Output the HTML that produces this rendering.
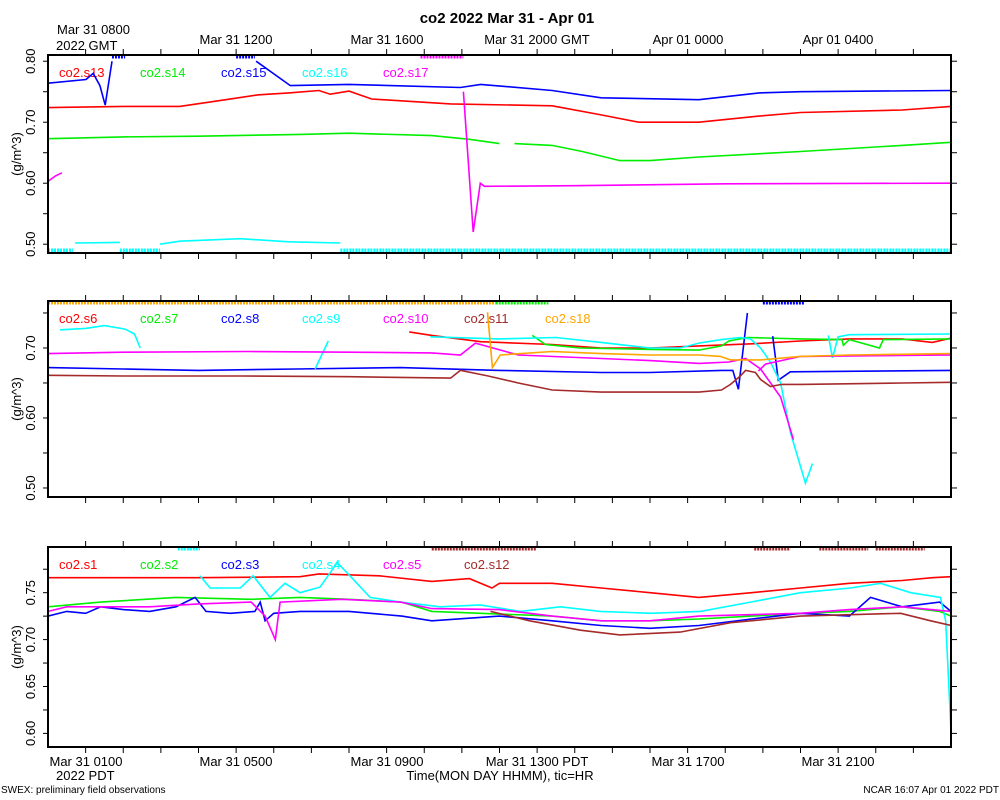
<!DOCTYPE html>
<html><head><meta charset="utf-8"><style>
body{margin:0;background:#fff;}
svg{display:block;font-family:"Liberation Sans",sans-serif;}
</style></head><body>
<svg id="chart" width="1000" height="800" viewBox="0 0 1000 800" xmlns="http://www.w3.org/2000/svg">
<text x="507" y="23" text-anchor="middle" font-size="15" font-weight="bold">co2 2022 Mar 31 - Apr 01</text>
<g font-size="13">
<text x="57" y="34">Mar 31 0800</text><text x="56" y="50">2022 GMT</text>
<text x="236" y="44" text-anchor="middle">Mar 31 1200</text>
<text x="387" y="44" text-anchor="middle">Mar 31 1600</text>
<text x="537" y="44" text-anchor="middle">Mar 31 2000 GMT</text>
<text x="688" y="44" text-anchor="middle">Apr 01 0000</text>
<text x="838" y="44" text-anchor="middle">Apr 01 0400</text>
</g>
<g font-size="13">
<text x="86" y="766" text-anchor="middle">Mar 31 0100</text><text x="56" y="780">2022 PDT</text>
<text x="236" y="766" text-anchor="middle">Mar 31 0500</text>
<text x="387" y="766" text-anchor="middle">Mar 31 0900</text>
<text x="537" y="766" text-anchor="middle">Mar 31 1300 PDT</text>
<text x="688" y="766" text-anchor="middle">Mar 31 1700</text>
<text x="838" y="766" text-anchor="middle">Mar 31 2100</text>
<text x="500" y="780" text-anchor="middle">Time(MON DAY HHMM), tic=HR</text>
</g>
<text x="1" y="793" font-size="10">SWEX: preliminary field observations</text>
<text x="999" y="793" font-size="10" text-anchor="end">NCAR 16:07 Apr 01 2022 PDT</text>
</svg>
<script>
// Panel 1 data (hours since 00 PDT)
const s13_t=[0,2.0,3.5,4.5,5.6,6.4,7.2,7.5,8.0,8.6,10.7,13.4,14.7,15.7,17.3,18.9,20.0,22.7,24];
const s13_v=[0.724,0.726,0.726,0.735,0.745,0.748,0.752,0.746,0.751,0.738,0.730,0.727,0.712,0.700,0.700,0.710,0.716,0.720,0.726];
const s14_t=[0,2,4,6.7,8,10.2,11.2,12,12.3,12.4,13.4,14.2,15.2,16.0,17.3,20,22.7,24];
const s14_v=[0.673,0.676,0.677,0.680,0.682,0.678,0.672,0.665,null,0.665,0.662,0.652,0.637,0.637,0.643,0.652,0.662,0.667];
const s15_t=[0,1.01,1.2,1.38,1.52,1.70,1.71,5.53,6.44,8,10.96,11.5,13.4,14.7,17.3,18.9,20,24];
const s15_v=[0.764,0.770,0.780,0.760,0.728,0.800,null,0.800,0.760,0.762,0.757,0.762,0.752,0.740,0.737,0.748,0.750,0.752];
const s16_t=[0.72,1.91,1.92,2.98,3.5,5.1,6.4,7.77];
const s16_v=[0.502,0.503,null,0.500,0.505,0.509,0.504,0.502];
const s17_t=[0,0.2,0.37,0.38,11.04,11.3,11.49,11.6,14,18,24];
const s17_v=[0.603,0.612,0.617,null,0.750,0.520,0.600,0.595,0.596,0.599,0.600];
// Panel 2 data
const s6_t=[9.6,10.2,11.5,13.4,14.7,16.0,17.3,18.7,20.0,21.3,22.7,23.5,24];
const s6_v=[0.723,0.718,0.709,0.705,0.700,0.700,0.703,0.706,0.710,0.713,0.713,0.708,0.714];
const s7_t=[12.87,13.22,14.15,16.0,17.3,17.9,18.1,18.6,20,21.1,21.14,21.3,22.1,22.2,22.4,24];
const s7_v=[0.718,0.705,0.700,0.698,0.697,0.703,0.710,0.715,0.713,0.712,0.704,0.712,0.700,0.712,0.712,0.713];
const s8_t=[0,2,4,6.6,9.36,12.0,14.7,16.0,17.9,18.2,18.35,18.59,18.6,19.26,19.41,19.73,24];
const s8_v=[0.672,0.670,0.668,0.670,0.672,0.668,0.665,0.665,0.668,0.668,0.641,0.750,null,0.717,0.654,0.666,0.668];
const s9_t=[0.32,1.0,1.5,2.05,2.3,2.45,2.46,7.1,7.45,7.46,10.16,12.0,13.5,14.7,16.0,16.8,17.3,17.9,18.4,18.67,18.94,19.2,19.47,19.73,20.13,20.32,20.33,20.74,20.85,21.0,21.3,24];
const s9_v=[0.726,0.728,0.732,0.727,0.720,0.700,null,0.670,0.710,null,0.716,0.713,0.715,0.708,0.700,0.700,0.707,0.712,0.715,0.713,0.700,0.680,0.650,0.580,0.507,0.535,null,0.718,0.686,0.716,0.719,0.720];
const s10_t=[0,2,5.3,8,10.2,10.96,11.36,12.5,14.7,16,17.3,18.1,18.54,18.94,19.47,19.81,19.82,18.88,19.07,20,24];
const s10_v=[0.692,0.694,0.695,0.694,0.693,0.690,0.707,0.690,0.685,0.682,0.678,0.680,0.685,0.670,0.630,0.569,null,0.667,0.677,0.688,0.690];
const s11_t=[0,2,5.1,8,10.7,10.96,11.7,12.5,13.4,14.7,17.3,17.9,18.14,18.4,18.54,18.8,18.94,19.2,19.5,20,22.7,24];
const s11_v=[0.661,0.660,0.660,0.659,0.657,0.668,0.660,0.650,0.640,0.637,0.637,0.640,0.648,0.660,0.668,0.665,0.655,0.645,0.648,0.648,0.650,0.651];
const s18_t=[11.68,11.81,12.02,13.4,14.7,16.0,17.3,17.87,18.14,18.94,20,21.3,22.7,24];
const s18_v=[0.751,0.672,0.690,0.695,0.692,0.690,0.690,0.688,0.683,0.683,0.688,0.690,0.691,0.692];
// Panel 3 data
const s1_t=[0,2,4,6.7,7.2,8.8,10.2,11.2,11.8,12.0,13.4,14.7,16.0,17.3,18.7,20,21.3,22.7,23.5,24];
const s1_v=[0.766,0.766,0.766,0.767,0.770,0.768,0.762,0.765,0.755,0.760,0.760,0.755,0.750,0.745,0.750,0.755,0.760,0.763,0.766,0.767];
const s2_t=[0,1.4,3.4,5.4,6.7,8.0,9.4,10.2,11.5,13.4,14.7,16.0,17.3,18.7,20,21.3,22.7,23.7,24];
const s2_v=[0.735,0.740,0.745,0.743,0.745,0.743,0.740,0.730,0.728,0.725,0.720,0.720,0.722,0.725,0.728,0.730,0.735,0.730,0.725];
const s3_t=[0,0.5,1.0,1.4,2.0,2.7,3.4,3.91,4.2,4.84,5.5,5.64,5.77,6.0,6.7,8.0,9.4,10.2,12.0,13.4,14.7,16.0,17.3,18.7,20,21.3,21.86,22.7,23.7,24];
const s3_v=[0.725,0.730,0.728,0.735,0.732,0.730,0.735,0.745,0.730,0.728,0.730,0.740,0.720,0.728,0.730,0.730,0.725,0.720,0.725,0.720,0.715,0.712,0.715,0.722,0.728,0.725,0.745,0.735,0.740,0.730];
const s4_t=[4.04,4.31,5.11,5.45,5.9,6.3,6.7,7.23,7.69,7.98,8.56,9.36,10.43,11.49,12.55,13.62,14.68,16.01,17.34,18.67,20.0,21.33,22.13,22.93,23.72,23.86,24];
const s4_v=[0.768,0.755,0.755,0.768,0.745,0.760,0.750,0.756,0.782,0.770,0.745,0.740,0.735,0.737,0.730,0.735,0.730,0.728,0.730,0.740,0.750,0.755,0.760,0.750,0.745,0.720,0.602];
const s5_t=[0,0.5,2.7,4.0,5.4,5.77,6.04,6.17,7.8,9.36,10.2,12.0,13.4,14.7,16.0,17.3,20,21.3,22.7,24];
const s5_v=[0.730,0.735,0.735,0.738,0.740,0.725,0.700,0.740,0.743,0.740,0.733,0.732,0.725,0.720,0.720,0.725,0.728,0.732,0.735,0.730];
const s12_t=[11.76,12.8,14.15,15.2,16.8,18.14,20.0,22.66,23.46,24];
const s12_v=[0.730,0.720,0.710,0.705,0.708,0.718,0.725,0.728,0.720,0.715];
// y-axis tick values
const p1_ticks=[0.50,0.60,0.70,0.80];
const p2_ticks=[0.50,0.60,0.70];
const p3_ticks=[0.60,0.65,0.70,0.75];

const NS="http://www.w3.org/2000/svg";
const svg=document.getElementById('chart');
const X0=48,X1=951;
function xs(h){return X0+h*(X1-X0)/24;}
function mk(tag,attrs,parent){const e=document.createElementNS(NS,tag);for(const k in attrs)e.setAttribute(k,attrs[k]);(parent||svg).appendChild(e);return e;}

const panels=[
 {top:55,bot:253,vTop:0.8102,vBot:0.4856,ticks:p1_ticks,minor:0.05,labY:77,
  series:[[s13_t,s13_v,'#ff0000','co2.s13'],[s14_t,s14_v,'#00ee00','co2.s14'],[s15_t,s15_v,'#0000ff','co2.s15'],[s16_t,s16_v,'#00ffff','co2.s16'],[s17_t,s17_v,'#ff00ff','co2.s17']],
  marks:[[1.7,2.05,'top','#0000ff'],[5.0,5.5,'top','#0000ff'],[9.9,11.04,'top','#ff00ff'],[0,0.66,'bot','#00ffff'],[1.91,2.98,'bot','#00ffff'],[7.77,24,'bot','#00ffff']]},
 {top:301,bot:497,vTop:0.7671,vBot:0.4871,ticks:p2_ticks,minor:0.05,labY:323,
  series:[[s6_t,s6_v,'#ff0000','co2.s6'],[s7_t,s7_v,'#00ee00','co2.s7'],[s8_t,s8_v,'#0000ff','co2.s8'],[s9_t,s9_v,'#00ffff','co2.s9'],[s10_t,s10_v,'#ff00ff','co2.s10'],[s11_t,s11_v,'#a52a2a','co2.s11'],[s18_t,s18_v,'#ffa500','co2.s18']],
  marks:[[0,11.9,'top','#ffa500'],[11.9,13.3,'top','#00ee00'],[19.0,20.1,'top','#0000ff']]},
 {top:547,bot:747,vTop:0.7987,vBot:0.5855,ticks:p3_ticks,minor:0.025,labY:569,
  series:[[s1_t,s1_v,'#ff0000','co2.s1'],[s2_t,s2_v,'#00ee00','co2.s2'],[s3_t,s3_v,'#0000ff','co2.s3'],[s4_t,s4_v,'#00ffff','co2.s4'],[s5_t,s5_v,'#ff00ff','co2.s5'],[s12_t,s12_v,'#a52a2a','co2.s12']],
  marks:[[3.45,4.04,'top','#00ffff'],[10.2,12.99,'top','#a52a2a'],[18.77,19.73,'top','#a52a2a'],[20.5,21.8,'top','#a52a2a'],[22.0,23.3,'top','#a52a2a']]}
];

panels.forEach((p,pi)=>{
  const ys=v=>p.top+(p.vTop-v)*(p.bot-p.top)/(p.vTop-p.vBot);
  const g=mk('g',{});
  
  
  const cp=mk('clipPath',{id:'cp'+pi},g);
  mk('rect',{x:X0,y:p.top,width:X1-X0,height:p.bot-p.top},cp);
  p.series.forEach((s,si)=>{
    const [t,v,c,name]=s;
    let d='',pen=false;
    for(let i=0;i<t.length;i++){
      if(v[i]===null){pen=false;continue;}
      d+=(pen?'L':'M')+xs(t[i]).toFixed(1)+' '+ys(v[i]).toFixed(1);
      pen=true;
    }
    const path=mk('path',{d:d,fill:'none',stroke:c,'stroke-width':1.6,'clip-path':'url(#cp'+pi+')'},g);
    
    
    const lt=mk('text',{x:59+si*81,y:p.labY,fill:c,'font-size':13},g);
    lt.textContent=name;
    
    
  });
  p.marks.forEach(m=>{
    const y=m[2]==='top'?p.top+1.5:p.bot-2.5;
    const ml=mk('line',{x1:xs(m[0]),x2:xs(m[1]),y1:y,y2:y,stroke:m[3],'stroke-width':4,'stroke-dasharray':'2 1'},g);
    
    
  });
  const fr=mk('rect',{x:X0,y:p.top,width:X1-X0,height:p.bot-p.top,fill:'none',stroke:'#000','stroke-width':2},g);
  
  
  for(let h=1;h<24;h++){
    mk('line',{x1:xs(h),x2:xs(h),y1:p.top,y2:p.top-6,stroke:'#000','stroke-width':1},g);
    mk('line',{x1:xs(h),x2:xs(h),y1:p.bot,y2:p.bot+6,stroke:'#000','stroke-width':1},g);
  }
  for(let v=Math.ceil(p.vBot/p.minor)*p.minor;v<=p.vTop;v+=p.minor){
    mk('line',{x1:X0,x2:X0-5,y1:ys(v),y2:ys(v),stroke:'#000','stroke-width':1},g);
    mk('line',{x1:X1,x2:X1+6,y1:ys(v),y2:ys(v),stroke:'#000','stroke-width':1},g);
  }
  p.ticks.forEach(v=>{
    const y=ys(v);
    const tl=mk('text',{x:0,y:0,'font-size':13,'text-anchor':'middle',transform:'translate(35,'+y.toFixed(1)+') rotate(-90)'},g);
    tl.textContent=v.toFixed(2);
    
    
  });
  const yt=mk('text',{x:0,y:0,'font-size':13,'text-anchor':'middle',transform:'translate(21,'+((p.top+p.bot)/2).toFixed(1)+') rotate(-90)'},g);
  yt.textContent='(g/m^3)';
  
  
});
</script>
</body></html>
